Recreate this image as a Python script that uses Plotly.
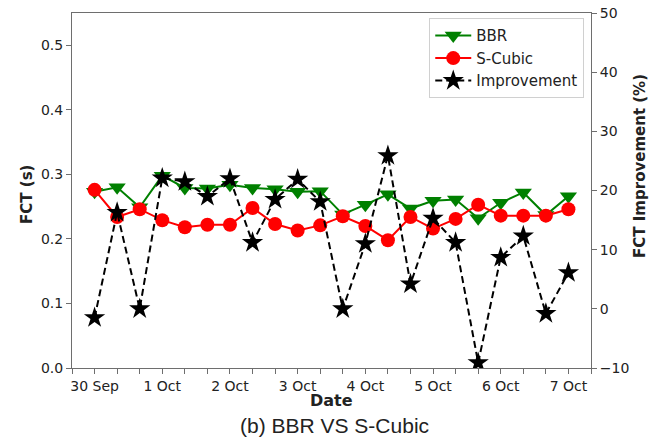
import plotly.graph_objects as go
from plotly.subplots import make_subplots

# Sample times: every 8 hours from 30 Sep to 7 Oct
times = [
    "2018-09-30 00:00", "2018-09-30 08:00", "2018-09-30 16:00",
    "2018-10-01 00:00", "2018-10-01 08:00", "2018-10-01 16:00",
    "2018-10-02 00:00", "2018-10-02 08:00", "2018-10-02 16:00",
    "2018-10-03 00:00", "2018-10-03 08:00", "2018-10-03 16:00",
    "2018-10-04 00:00", "2018-10-04 08:00", "2018-10-04 16:00",
    "2018-10-05 00:00", "2018-10-05 08:00", "2018-10-05 16:00",
    "2018-10-06 00:00", "2018-10-06 08:00", "2018-10-06 16:00",
    "2018-10-07 00:00",
]

# Flow completion time (s)
bbr_fct = [0.273, 0.280, 0.249, 0.298, 0.279, 0.278, 0.284, 0.279, 0.277, 0.273,
           0.274, 0.238, 0.253, 0.269, 0.247, 0.259, 0.261, 0.232, 0.256, 0.272,
           0.237, 0.266]
scubic_fct = [0.276, 0.234, 0.246, 0.229, 0.218, 0.222, 0.222, 0.248, 0.223, 0.213,
              0.221, 0.235, 0.220, 0.198, 0.234, 0.216, 0.231, 0.253, 0.236, 0.236,
              0.236, 0.246]

# FCT improvement of S-Cubic over BBR (%)
improvement = [-1.5, 16.3, 0.0, 22.1, 21.5, 19.0, 22.0, 11.2, 18.5, 21.9,
               18.1, 0.0, 11.0, 25.9, 4.2, 15.3, 11.2, -9.1, 8.7, 12.3,
               -0.8, 6.1]

left_ticks = [0.0, 0.1, 0.2, 0.3, 0.4, 0.5]
right_ticks = [-10, 0, 10, 20, 30, 40, 50]

AXIS_COLOR = "#6e6e6e"
TEXT_COLOR = "#222222"
FONT = "DejaVu Sans"

fig = make_subplots(specs=[[{"secondary_y": True}]])

fig.add_trace(go.Scatter(
    x=times, y=bbr_fct, name="BBR", mode="lines+markers",
    line=dict(color="#008000", width=2),
    marker=dict(symbol="triangle-down", size=15, color="#008000", line=dict(width=0)),
), secondary_y=False)

fig.add_trace(go.Scatter(
    x=times, y=scubic_fct, name="S-Cubic", mode="lines+markers",
    line=dict(color="#ff0000", width=2),
    marker=dict(symbol="circle", size=14, color="#ff0000", line=dict(width=0)),
), secondary_y=False)

fig.add_trace(go.Scatter(
    x=times, y=improvement, name="Improvement", mode="lines+markers",
    line=dict(color="black", width=2, dash="7px,4px"),
    marker=dict(symbol="star", size=16, color="black", line=dict(width=0)),
), secondary_y=True)

fig.update_layout(
    width=653, height=437,
    margin=dict(l=72, r=62, t=13, b=69, autoexpand=False),
    paper_bgcolor="white", plot_bgcolor="white",
    font=dict(family=FONT, size=14, color=TEXT_COLOR),
    legend=dict(
        x=0.987, y=0.985, xanchor="right", yanchor="top",
        bgcolor="rgba(255,255,255,0.9)", bordercolor="#d0d0d0", borderwidth=1,
        font=dict(family=FONT, size=15, color=TEXT_COLOR),
        tracegroupgap=0, itemwidth=36,
    ),
    annotations=[
        dict(text="<b>FCT (s)</b>", xref="paper", yref="paper",
             x=-0.087, y=0.49, textangle=-90, showarrow=False,
             xanchor="center", yanchor="middle",
             font=dict(family=FONT, size=15, color=TEXT_COLOR)),
        dict(text="<b>FCT Improvement (%)</b>", xref="paper", yref="paper",
             x=1.093, y=0.57, textangle=-90, showarrow=False,
             xanchor="center", yanchor="middle",
             font=dict(family=FONT, size=15, color=TEXT_COLOR)),
        dict(text="<b>Date</b>", xref="paper", yref="paper",
             x=0.5, y=-0.092, showarrow=False,
             xanchor="center", yanchor="middle",
             font=dict(family=FONT, size=16, color=TEXT_COLOR)),
        dict(text="(b) BBR VS S-Cubic", xref="paper", yref="paper",
             x=0.505, y=-0.163, showarrow=False,
             xanchor="center", yanchor="middle",
             font=dict(family="Liberation Sans", size=21, color=TEXT_COLOR)),
    ],
)

fig.update_xaxes(
    type="date", automargin=False, domain=[0, 1],
    range=["2018-09-29 16:00", "2018-10-07 08:00"],
    tick0="2018-09-30", dtick=86400000, tickformat="%-d %b",
    ticks="outside", ticklen=5, tickcolor=AXIS_COLOR,
    minor=dict(tick0="2018-09-29 16:00", dtick=28800000, ticks="outside",
               ticklen=5, tickcolor=AXIS_COLOR),
    showline=True, linecolor=AXIS_COLOR, linewidth=1, mirror=True,
    showgrid=False, zeroline=False,
    tickfont=dict(family=FONT, size=14, color=TEXT_COLOR),
)

fig.update_yaxes(
    range=[0, 0.55], tickvals=left_ticks, tickformat=".1f", automargin=False,
    ticks="outside", ticklen=5, tickcolor=AXIS_COLOR,
    showline=True, linecolor=AXIS_COLOR, linewidth=1,
    showgrid=False, zeroline=False,
    tickfont=dict(family=FONT, size=14, color=TEXT_COLOR),
    secondary_y=False,
)

fig.update_yaxes(
    range=[-10, 50], tickvals=right_ticks, automargin=False,
    ticks="outside", ticklen=5, tickcolor=AXIS_COLOR,
    showline=True, linecolor=AXIS_COLOR, linewidth=1,
    showgrid=False, zeroline=False,
    tickfont=dict(family=FONT, size=14, color=TEXT_COLOR),
    secondary_y=True,
)

fig.write_html("out.html")
